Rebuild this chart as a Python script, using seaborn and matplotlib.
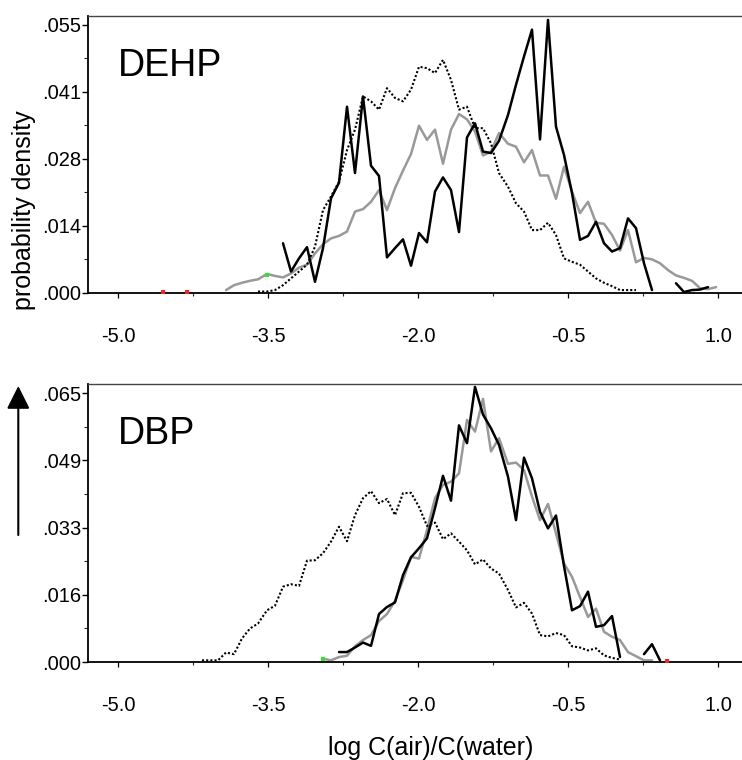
import numpy as np
import pandas as pd
import matplotlib
matplotlib.use("Agg")
import matplotlib.pyplot as plt
from matplotlib.patches import FancyArrowPatch
import seaborn as sns

sns.set_theme(style="white")
plt.rcParams['font.family'] = ['Liberation Sans', 'DejaVu Sans']

# ---------------- data ----------------
x_grid = [-4.16, -4.08, -4.00, -3.92, -3.84, -3.76, -3.68, -3.60, -3.51, -3.43,
          -3.35, -3.27, -3.19, -3.11, -3.03, -2.95, -2.87, -2.79, -2.71, -2.63,
          -2.55, -2.47, -2.39, -2.31, -2.23, -2.15, -2.07, -1.99, -1.91, -1.83,
          -1.75, -1.67, -1.59, -1.51, -1.43, -1.35, -1.27, -1.19, -1.10, -1.02,
          -0.94, -0.86, -0.78, -0.70, -0.62, -0.54, -0.46, -0.38, -0.30, -0.22,
          -0.14, -0.06, 0.02, 0.10, 0.18, 0.26, 0.34, 0.42, 0.50, 0.58,
          0.66, 0.74, 0.82, 0.90, 0.98]

# DEHP panel
dehp_black_a_start = 10
dehp_black_a = [0.0102, 0.0044, 0.0071, 0.0094, 0.0023, 0.0092, 0.0194, 0.0226, 0.0382, 0.0246,
                0.0403, 0.0261, 0.0240, 0.0073, 0.0092, 0.0110, 0.0056, 0.0123, 0.0104, 0.0208,
                0.0237, 0.0211, 0.0125, 0.0319, 0.0348, 0.0290, 0.0287, 0.0312, 0.0365, 0.0427,
                0.0485, 0.0540, 0.0315, 0.0560, 0.0341, 0.0283, 0.0205, 0.0109, 0.0117, 0.0146,
                0.0102, 0.0085, 0.0092, 0.0153, 0.0133, 0.0061, 0.0006]
dehp_black_b_start = 59
dehp_black_b = [0.0020, 0.0002, 0.0006, 0.0007, 0.0012]
dehp_gray_start = 3
dehp_gray = [0.0006, 0.0016, 0.0021, 0.0025, 0.0028, 0.0039, 0.0035, 0.0032, 0.0040, 0.0052,
             0.0058, 0.0081, 0.0100, 0.0112, 0.0117, 0.0126, 0.0167, 0.0172, 0.0187, 0.0211,
             0.0170, 0.0215, 0.0251, 0.0285, 0.0343, 0.0314, 0.0335, 0.0265, 0.0335, 0.0367,
             0.0356, 0.0331, 0.0282, 0.0290, 0.0328, 0.0306, 0.0300, 0.0268, 0.0293, 0.0241,
             0.0241, 0.0193, 0.0259, 0.0208, 0.0164, 0.0187, 0.0144, 0.0142, 0.0119, 0.0087,
             0.0129, 0.0063, 0.0072, 0.0069, 0.0061, 0.0047, 0.0036, 0.0031, 0.0025, 0.0010,
             0.0008, 0.0012]
dehp_dot_start = 7
dehp_dot = [0.0003, 0.0003, 0.0006, 0.0016, 0.0030, 0.0044, 0.0058, 0.0095, 0.0170, 0.0198,
            0.0228, 0.0293, 0.0335, 0.0403, 0.0393, 0.0376, 0.0420, 0.0400, 0.0393, 0.0417,
            0.0464, 0.0461, 0.0451, 0.0478, 0.0437, 0.0376, 0.0382, 0.0338, 0.0338, 0.0307,
            0.0246, 0.0218, 0.0184, 0.0167, 0.0129, 0.0129, 0.0144, 0.0119, 0.0071, 0.0064,
            0.0058, 0.0044, 0.0030, 0.0021, 0.0014, 0.0006, 0.0006, 0.0006]
dehp_red_x = [-4.55, -4.31]
dehp_red_y = [0.0002, 0.0002]
dehp_green_x = [-3.51]
dehp_green_y = [0.0036]

# DBP panel
dbp_black_a_start = 17
dbp_black_a = [0.0024, 0.0024, 0.0035, 0.0047, 0.0039, 0.0116, 0.0133, 0.0144, 0.0210, 0.0253,
               0.0275, 0.0299, 0.0372, 0.0450, 0.0390, 0.0572, 0.0529, 0.0665, 0.0598, 0.0565,
               0.0525, 0.0448, 0.0343, 0.0494, 0.0444, 0.0363, 0.0323, 0.0354, 0.0232, 0.0125,
               0.0135, 0.0170, 0.0085, 0.0089, 0.0111, 0.0012]
dbp_black_b_start = 55
dbp_black_b = [0.0019, 0.0043, 0.0004]
dbp_gray_start = 15
dbp_gray = [0.0008, 0.0004, 0.0012, 0.0015, 0.0038, 0.0053, 0.0065, 0.0099, 0.0116, 0.0148,
            0.0198, 0.0254, 0.0250, 0.0319, 0.0396, 0.0428, 0.0436, 0.0456, 0.0585, 0.0557,
            0.0636, 0.0509, 0.0541, 0.0479, 0.0482, 0.0464, 0.0400, 0.0343, 0.0382, 0.0311,
            0.0238, 0.0206, 0.0157, 0.0109, 0.0129, 0.0073, 0.0061, 0.0053, 0.0024, 0.0014,
            0.0004, 0.0004]
dbp_dot_start = 0
dbp_dot = [0.0004, 0.0004, 0.0004, 0.0023, 0.0019, 0.0057, 0.0081, 0.0093, 0.0125, 0.0136,
           0.0182, 0.0188, 0.0184, 0.0245, 0.0246, 0.0263, 0.0291, 0.0327, 0.0292, 0.0355,
           0.0396, 0.0413, 0.0384, 0.0394, 0.0355, 0.0408, 0.0409, 0.0375, 0.0329, 0.0337,
           0.0297, 0.0311, 0.0291, 0.0270, 0.0236, 0.0248, 0.0226, 0.0214, 0.0174, 0.0132,
           0.0143, 0.0117, 0.0065, 0.0062, 0.0070, 0.0065, 0.0038, 0.0035, 0.0028, 0.0033,
           0.0016, 0.0010, 0.0006]
dbp_red_x = [0.49]
dbp_red_y = [0.0003]
dbp_green_x = [-2.95]
dbp_green_y = [0.0008]

x_ticks = [-5.0, -3.5, -2.0, -0.5, 1.0]
x_tick_labels = ["-5.0", "-3.5", "-2.0", "-0.5", "1.0"]
x_minor = [-4.25, -2.75, -1.25, 0.25]

dehp_yticks = [0.0, 0.01375, 0.0275, 0.04125, 0.055]
dehp_ytick_labels = [".000", ".014", ".028", ".041", ".055"]
dbp_yticks = [0.0, 0.01625, 0.0325, 0.04875, 0.065]
dbp_ytick_labels = [".000", ".016", ".033", ".049", ".065"]

# ---------------- figure ----------------
W, H = 742, 760
fig = plt.figure(figsize=(W / 100, H / 100), dpi=100)


def frame(x0, y0, x1, y1):
    return [x0 / W, 1 - y1 / H, (x1 - x0) / W, (y1 - y0) / H]


ax1 = fig.add_axes(frame(88, 16, 742, 293))
ax2 = fig.add_axes(frame(88, 384, 742, 662))

GRAY = "#999999"


def seg(start, vals):
    return pd.DataFrame({"x": x_grid[start:start + len(vals)], "y": vals})


def draw(ax, gray, dot, blacks, reds, greens):
    d = seg(*gray)
    sns.lineplot(data=d, x="x", y="y", ax=ax, color=GRAY, lw=1.8,
                 estimator=None, sort=False)
    d = seg(*dot)
    sns.lineplot(data=d, x="x", y="y", ax=ax, color="black", lw=1.5,
                 linestyle=(0, (1, 1.0)), estimator=None, sort=False)
    for b in blacks:
        d = seg(*b)
        sns.lineplot(data=d, x="x", y="y", ax=ax, color="black", lw=1.8,
                     estimator=None, sort=False)
    sns.scatterplot(x=reds[0], y=reds[1], ax=ax, color="#ff2020", s=5,
                    marker="s", linewidth=0, zorder=5)
    sns.scatterplot(x=greens[0], y=greens[1], ax=ax, color="#22ee22", s=5,
                    marker="s", linewidth=0, zorder=5)


draw(ax1, (dehp_gray_start, dehp_gray), (dehp_dot_start, dehp_dot),
     [(dehp_black_a_start, dehp_black_a), (dehp_black_b_start, dehp_black_b)],
     (dehp_red_x, dehp_red_y), (dehp_green_x, dehp_green_y))
draw(ax2, (dbp_gray_start, dbp_gray), (dbp_dot_start, dbp_dot),
     [(dbp_black_a_start, dbp_black_a), (dbp_black_b_start, dbp_black_b)],
     (dbp_red_x, dbp_red_y), (dbp_green_x, dbp_green_y))

for ax, yt, ytl, ytop, name in [(ax1, dehp_yticks, dehp_ytick_labels, 0.0568, "DEHP"),
                                (ax2, dbp_yticks, dbp_ytick_labels, 0.0672, "DBP")]:
    ax.set_xlim(-5.30, 1.24)
    ax.set_ylim(0, ytop)
    ax.set_xticks(x_ticks)
    ax.set_xticklabels(x_tick_labels)
    ax.set_xticks(x_minor, minor=True)
    ax.set_yticks(yt)
    ax.set_yticklabels(ytl)
    ax.set_yticks([(a + b) / 2 for a, b in zip(yt[:-1], yt[1:])], minor=True)
    ax.set_xlabel("")
    ax.set_ylabel("")
    ax.spines["right"].set_visible(False)
    ax.spines["left"].set_color("black")
    ax.spines["left"].set_linewidth(1.3)
    ax.spines["bottom"].set_color("black")
    ax.spines["bottom"].set_linewidth(1.3)
    ax.spines["top"].set_color("#444444")
    ax.spines["top"].set_linewidth(1.0)
    ax.tick_params(axis="y", which="major", direction="out", length=4.6, width=1,
                   pad=0.5, labelsize=14.5, colors="black", left=True)
    ax.tick_params(axis="y", which="minor", direction="out", length=3, width=0.8,
                   left=True)
    ax.tick_params(axis="x", which="major", direction="out", length=3.5, width=0.9,
                   pad=21, labelsize=14.5, colors="black", bottom=True)
    ax.tick_params(axis="x", which="minor", direction="out", length=1.8, width=0.8,
                   bottom=True)
    ax.grid(False)
    ax.set_facecolor("white")
    ax.text(0.046, 0.783, name, transform=ax.transAxes, fontsize=27,
            ha="left", va="baseline", color="black")

fig.text(431 / W, 1 - 755 / H, "log C(air)/C(water)", fontsize=18,
         ha="center", va="baseline", color="black")
fig.text(24 / W, 1 - 210 / H, "probability density", fontsize=18,
         rotation=90, ha="center", va="center", color="black")

arrow = FancyArrowPatch((18.3 / W, 1 - 535 / H), (18.3 / W, 1 - 386 / H),
                        transform=fig.transFigure,
                        arrowstyle="-|>,head_length=0.7,head_width=0.35",
                        mutation_scale=20, color="black", lw=1.5,
                        shrinkA=0, shrinkB=0)
fig.add_artist(arrow)

fig.savefig("out.png", dpi=100)
